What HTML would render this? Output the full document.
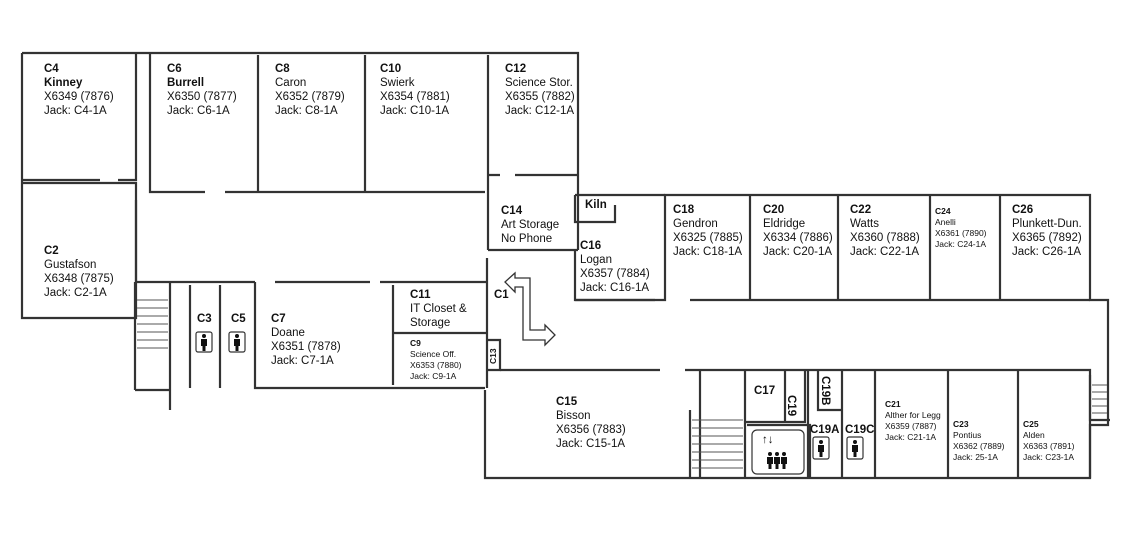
<!DOCTYPE html>
<html><head><style>
body{margin:0;background:#fff}
svg{display:block}
text{font-family:"Liberation Sans",Arial,sans-serif;font-size:11.5px;fill:#111}
.b{font-weight:bold}
.s{font-size:8.5px}
</style></head><body>
<svg width="1133" height="545" viewBox="0 0 1133 545" xmlns="http://www.w3.org/2000/svg">
<defs>
<g id="p"><circle cx="0" cy="-6" r="2" fill="#111"/><path d="M-3 -3 H3 V4 H1.5 V9 H-1.5 V4 H-3 Z" fill="#111"/></g>
</defs>
<g fill="none" stroke="#333" stroke-width="2.2">
<path d="M22 53 H578 V250"/>
<path d="M22 53 V318 H136 V183 H22"/>
<path d="M22 180 H100 M118 180 H136 V53"/>
<path d="M150 53 V192 H205 M225 192 H485 M488 55 V250"/>
<path d="M258 55 V192 M365 55 V192"/>
<path d="M488 175 H500 M515 175 H578"/>
<path d="M488 250 H578"/>
<path d="M136 200 V282 M136 282 H255 M275 282 H370 M380 282 H488"/>
<path d="M135 282 V390 M170 282 V410 M135 390 H170"/>
<path d="M190 285 V388 M220 285 V388 M255 282 V388 H485"/>
<path d="M393 285 V385 M393 333 H487 M487 258 V388"/>
<path d="M487 340 H500 V370 H487"/>
<path d="M575 250 V300 H665 V195 H1090 V300 H1108 V425 H1090 V478 H485 V390"/>
<path d="M575 195 H665 M575 195 V222 H615 V205 M750 195 V300 M838 195 V300 M930 195 V300 M1000 195 V300"/>
<path d="M575 300 H655 M690 300 H1090"/>
<path d="M500 370 H660 M685 370 H1090 V478"/>
<path d="M700 370 V478 M690 410 V478 M745 370 V478"/>
<path d="M745 422 H785 M785 370 V422 H805 V370"/>
<path d="M747 425 H810 V478"/>
<path d="M808 370 V478 M818 370 V410 H842 V370 M842 410 V478 M875 370 V478 M948 370 V478 M1018 370 V478"/>
<path d="M1090 375 V420 H1110"/>
</g>
<g stroke="#555" stroke-width="1">
<path d="M137 300 H168 M137 308 H168 M137 316 H168 M137 324 H168 M137 332 H168 M137 340 H168 M137 348 H168"/>
<path d="M692 420 H743 M692 428 H743 M692 436 H743 M692 444 H743 M692 452 H743 M692 460 H743 M692 468 H743"/>
<path d="M1092 385 H1107 M1092 392 H1107 M1092 399 H1107 M1092 406 H1107 M1092 413 H1107"/>
</g>
<path d="M505 282 L515 273 V278 H530 V330 H545 V325 L555 335 L545 345 V340 H523 V287 H515 V292 Z" fill="#fff" stroke="#333" stroke-width="1.3"/>
<g fill="none" stroke="#333" stroke-width="1.2">
<rect x="196" y="332" width="16" height="20" rx="2"/><rect x="229" y="332" width="16" height="20" rx="2"/>
<rect x="813" y="437" width="16" height="22" rx="2"/><rect x="847" y="437" width="16" height="22" rx="2"/>
<rect x="752" y="430" width="52" height="44" rx="5"/>
</g>
<use href="#p" x="204" y="342"/><use href="#p" x="237" y="342"/>
<use href="#p" x="821" y="448"/><use href="#p" x="855" y="448"/>
<use href="#p" x="770" y="460"/><use href="#p" x="777" y="460"/><use href="#p" x="784" y="460"/>
<text x="762" y="443" font-size="13">↑↓</text>
<text x="44" y="72" class="b">C4</text><text x="44" y="86" class="b">Kinney</text><text x="44" y="100">X6349 (7876)</text><text x="44" y="114">Jack: C4-1A</text>
<text x="167" y="72" class="b">C6</text><text x="167" y="86" class="b">Burrell</text><text x="167" y="100">X6350 (7877)</text><text x="167" y="114">Jack: C6-1A</text>
<text x="275" y="72" class="b">C8</text><text x="275" y="86">Caron</text><text x="275" y="100">X6352 (7879)</text><text x="275" y="114">Jack: C8-1A</text>
<text x="380" y="72" class="b">C10</text><text x="380" y="86">Swierk</text><text x="380" y="100">X6354 (7881)</text><text x="380" y="114">Jack: C10-1A</text>
<text x="505" y="72" class="b">C12</text><text x="505" y="86">Science Stor.</text><text x="505" y="100">X6355 (7882)</text><text x="505" y="114">Jack: C12-1A</text>
<text x="501" y="214" class="b">C14</text><text x="501" y="228">Art Storage</text><text x="501" y="242">No Phone</text>
<text x="44" y="254" class="b">C2</text><text x="44" y="268">Gustafson</text><text x="44" y="282">X6348 (7875)</text><text x="44" y="296">Jack: C2-1A</text>
<text x="197" y="322" class="b">C3</text><text x="231" y="322" class="b">C5</text>
<text x="271" y="322" class="b">C7</text><text x="271" y="336">Doane</text><text x="271" y="350">X6351 (7878)</text><text x="271" y="364">Jack: C7-1A</text>
<text x="410" y="298" class="b">C11</text><text x="410" y="312">IT Closet &amp;</text><text x="410" y="326">Storage</text>
<text x="410" y="346" class="s b">C9</text><text x="410" y="357" class="s">Science Off.</text><text x="410" y="368" class="s">X6353 (7880)</text><text x="410" y="379" class="s">Jack: C9-1A</text>
<text x="496" y="364" class="s b" transform="rotate(-90 496 364)">C13</text>
<text x="494" y="298" class="b">C1</text>
<text x="585" y="208" class="b">Kiln</text>
<text x="580" y="249" class="b">C16</text><text x="580" y="263">Logan</text><text x="580" y="277">X6357 (7884)</text><text x="580" y="291">Jack: C16-1A</text>
<text x="673" y="213" class="b">C18</text><text x="673" y="227">Gendron</text><text x="673" y="241">X6325 (7885)</text><text x="673" y="255">Jack: C18-1A</text>
<text x="763" y="213" class="b">C20</text><text x="763" y="227">Eldridge</text><text x="763" y="241">X6334 (7886)</text><text x="763" y="255">Jack: C20-1A</text>
<text x="850" y="213" class="b">C22</text><text x="850" y="227">Watts</text><text x="850" y="241">X6360 (7888)</text><text x="850" y="255">Jack: C22-1A</text>
<text x="935" y="214" class="s b">C24</text><text x="935" y="225" class="s">Anelli</text><text x="935" y="236" class="s">X6361 (7890)</text><text x="935" y="247" class="s">Jack: C24-1A</text>
<text x="1012" y="213" class="b">C26</text><text x="1012" y="227">Plunkett-Dun.</text><text x="1012" y="241">X6365 (7892)</text><text x="1012" y="255">Jack: C26-1A</text>
<text x="556" y="405" class="b">C15</text><text x="556" y="419">Bisson</text><text x="556" y="433">X6356 (7883)</text><text x="556" y="447">Jack: C15-1A</text>
<text x="754" y="394" class="b">C17</text>
<text x="788" y="395" class="b" transform="rotate(90 788 395)">C19</text>
<text x="822" y="376" class="b" transform="rotate(90 822 376)">C19B</text>
<text x="810" y="433" class="b">C19A</text><text x="845" y="433" class="b">C19C</text>
<text x="885" y="407" class="s b">C21</text><text x="885" y="418" class="s">Alther for Legg</text><text x="885" y="429" class="s">X6359 (7887)</text><text x="885" y="440" class="s">Jack: C21-1A</text>
<text x="953" y="427" class="s b">C23</text><text x="953" y="438" class="s">Pontius</text><text x="953" y="449" class="s">X6362 (7889)</text><text x="953" y="460" class="s">Jack: 25-1A</text>
<text x="1023" y="427" class="s b">C25</text><text x="1023" y="438" class="s">Alden</text><text x="1023" y="449" class="s">X6363 (7891)</text><text x="1023" y="460" class="s">Jack: C23-1A</text>
</svg>
</body></html>
